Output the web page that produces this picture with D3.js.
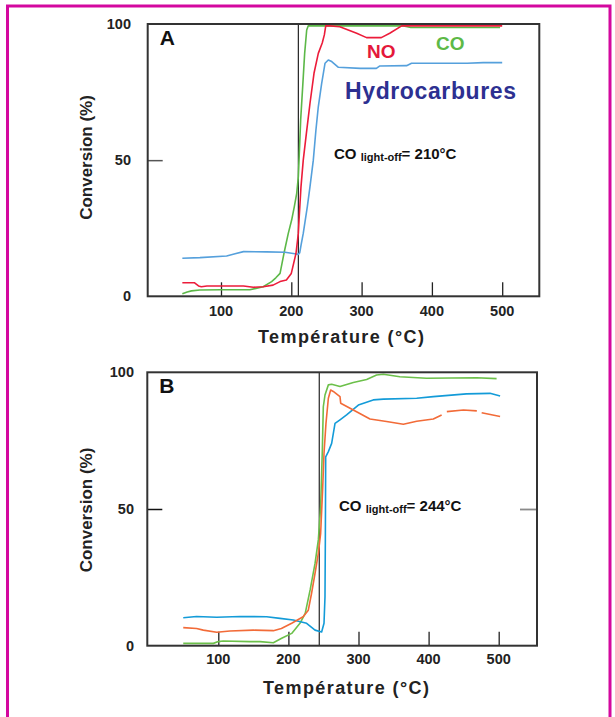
<!DOCTYPE html>
<html>
<head>
<meta charset="utf-8">
<script src="https://cdn.jsdelivr.net/npm/d3@7"></script>
<style>
  html, body { margin: 0; padding: 0; background: #fff; }
  svg { display: block; }
  text { font-family: "Liberation Sans", Arial, Helvetica, sans-serif; font-weight: bold; }
</style>
</head>
<body>
<svg id="chart" width="615" height="717"></svg>
<script>
// Temperature ticks (°C) and conversion ticks (%)
const tempTicks = [100, 200, 300, 400, 500];
const convTicks = [0, 50, 100];

// Panel A: conversion (%) versus temperature (°C)
const aCO = [[45,0.9],[52,1.6],[58,2.0],[70,2.3],[100,2.4],[141,2.4],[160,3.5],[172,5.4],[178,6.8],[184,8.4],
  [189.6,15.8],[195.7,23.1],[200.5,28],[204.3,32.9],[207.7,37.8],[210,43.9],[211.4,52.5],[213.3,64.7],[216.2,77],
  [219,89.2],[221.9,97.8],[224,99.3],[300,99.3],[360,99.3],[370,98.7],[450,98.7],[497,98.7]];
const aNO = [[45,5],[62,5],[68,3.8],[72,3.5],[80,3.8],[132,3.8],[146,3.3],[160,3.5],[174,4.1],[184,5.4],[193,6],
  [200,8.4],[206.7,15.8],[210,23.1],[211,28],[213.8,40.3],[217,50],[222,61],[226.6,70.9],[232.3,81.9],[238.4,89.2],
  [244,93],[247,96],[249,99.3],[251,99.4],[269,99],[293,96.6],[307,95],[328,95],[340,96.6],[357,99.3],[400,99.3],[500,99.3]];
const aHC = [[45,14],[70,14.2],[108,14.8],[120,15.6],[132,16.4],[165,16.3],[191,16.2],[205,15.6],[210,15.4],[212,16],
  [214,19],[217,23.1],[222.8,32.9],[226.6,40.3],[231.3,50],[235,61],[238.4,69.6],[243.2,78.2],[248,85.6],[252.6,86.8],
  [257.5,86.2],[267,84.1],[298,83.7],[321,83.7],[326,84.6],[364,84.7],[371,85.6],[450,85.6],[473,85.8],[500,85.8]];
const aLightOff = 210;

// Panel B: conversion (%) versus temperature (°C); null marks a break in the trace
const bCO = [[50,0.85],[93,0.85],[100,1.5],[107,1.7],[145,1.5],[159.5,1.5],[178.5,1.1],[190.4,2.7],[204.7,4.5],
  [216.5,8.2],[224,11.8],[231,20.4],[238,30.1],[242.7,38.7],[246,50.9],[248.4,71.6],[249.8,87.4],[252.2,91.7],
  [257,95.4],[261.7,95.6],[273.6,94.8],[292.6,96.3],[311.6,97.4],[325.8,99],[335.4,99.3],[359,98.4],[397,97.8],
  [468.5,98],[497,97.7]];
const bNO = [[50,6.6],[69,6.3],[78.6,5.7],[97.7,4.9],[116.6,5.4],[150,5.7],[178.5,5.5],[190,6.3],[204.7,8.2],
  [221,10.6],[228.4,13],[233,19.1],[238,26.5],[242.7,33.8],[246,41.1],[248.8,57],[250.8,70.4],[253.6,81.3],
  [257,90.5],[260.3,93.5],[264,93],[273.6,91.1],[274.6,88.7],[292.6,86.2],[316.4,82.9],[340,82],[364,81],
  [383,82.1],[406.7,82.9],[418.6,84.4],null,[426,85.6],[449.7,86.2],[468.8,85.9],null,[475.7,85.2],[502,83.8]];
const bHC = [[50,10.2],[69,10.7],[97.7,10.4],[131,10.7],[169,10.6],[188,10],[207,9.4],[226,8.2],[238,5.7],
  [247.4,5],[250.8,8.2],[252.2,17.9],[252.7,38.7],[253.2,69.1],[257,71],[261.7,74],[266.5,81.3],[273.6,82.6],
  [283,84.4],[299.8,88],[321,89.9],[335.5,90.2],[383,90.5],[406.7,91.1],[454,92.1],[487.6,92.3],[502,91.3]];
const bLightOff = 244;

const svg = d3.select("#chart");

// Magenta page frame (open at the bottom)
svg.append("path")
  .attr("d", "M7.5,717 V6 H610 V717")
  .attr("fill", "none")
  .attr("stroke", "#d4089f")
  .attr("stroke-width", 3);

function panel(cfg) {
  const g = svg.append("g");
  const x = d3.scaleLinear().domain([0, 500]).range(cfg.xRange);
  const y = d3.scaleLinear().domain([0, 100]).range([cfg.box.bottom, cfg.box.top]);
  const b = cfg.box;

  // Temperature tick marks rising from the bottom edge
  const xAxis = d3.axisTop(x).tickValues(tempTicks).tickSize(14).tickFormat("");
  g.append("g").attr("transform", `translate(0,${b.bottom})`).call(xAxis)
    .call(s => s.select(".domain").remove())
    .call(s => s.selectAll("line").attr("stroke", "#222").attr("stroke-width", 1.3));

  // Temperature tick labels
  g.selectAll(".xl").data(tempTicks).enter().append("text")
    .attr("x", d => x(d)).attr("y", b.bottom + cfg.xLabelDy)
    .attr("text-anchor", "middle").attr("dominant-baseline", "central")
    .attr("font-size", 14.5).attr("fill", "#222").text(d => d);

  // Conversion tick at 50 and labels
  const yAxis = d3.axisRight(y).tickValues([50]).tickSize(15).tickFormat("");
  g.append("g").attr("transform", `translate(${b.left},0)`).call(yAxis)
    .call(s => s.select(".domain").remove())
    .call(s => s.selectAll("line").attr("stroke", cfg.leftTick).attr("stroke-width", 1.5));
  if (cfg.rightTick) {
    const yAxisR = d3.axisLeft(y).tickValues([50]).tickSize(17).tickFormat("");
    g.append("g").attr("transform", `translate(${b.right},0)`).call(yAxisR)
      .call(s => s.select(".domain").remove())
      .call(s => s.selectAll("line").attr("stroke", "#8a8a8a").attr("stroke-width", 1.8));
  }
  g.selectAll(".yl").data(convTicks).enter().append("text")
    .attr("x", cfg.yLabelX).attr("y", d => y(d))
    .attr("text-anchor", "end").attr("dominant-baseline", "central")
    .attr("font-size", 14.5).attr("fill", "#222").text(d => d);

  // Light-off marker
  g.append("line")
    .attr("x1", x(cfg.lightOff)).attr("x2", x(cfg.lightOff))
    .attr("y1", b.top).attr("y2", b.bottom)
    .attr("stroke", "#111").attr("stroke-width", 1.1);

  // Conversion traces
  const line = d3.line().defined(d => d != null).x(d => x(d[0])).y(d => y(d[1]));
  cfg.series.forEach(s => {
    g.append("path").datum(s.data)
      .attr("d", line).attr("fill", "none")
      .attr("stroke", s.color).attr("stroke-width", 1.6)
      .attr("stroke-linejoin", "round");
  });

  // Plot frame
  g.append("rect")
    .attr("x", b.left).attr("y", b.top)
    .attr("width", b.right - b.left).attr("height", b.bottom - b.top)
    .attr("fill", "none").attr("stroke", "#333").attr("stroke-width", 2);

  // Panel letter
  g.append("text").attr("x", b.left + 12).attr("y", b.top + 21)
    .attr("font-size", 21).attr("fill", "#111").text(cfg.letter);

  // Light-off annotation
  const t = g.append("text").attr("x", cfg.noteX).attr("y", cfg.noteY).attr("fill", "#111");
  t.append("tspan").attr("font-size", 15).text("CO ");
  t.append("tspan").attr("font-size", 11).attr("dy", 2).text("light-off");
  t.append("tspan").attr("font-size", 15).attr("dy", -2).text(`= ${cfg.lightOff}°C`);

  // Axis titles
  g.append("text")
    .attr("transform", `translate(${cfg.yTitle[0]},${cfg.yTitle[1]}) rotate(-90)`)
    .attr("text-anchor", "middle").attr("dominant-baseline", "central")
    .attr("font-size", 17).attr("fill", "#222").text("Conversion (%)");
  g.append("text")
    .attr("x", cfg.xTitle[0]).attr("y", cfg.xTitle[1])
    .attr("text-anchor", "middle").attr("font-size", 18).attr("fill", "#222")
    .attr("textLength", 166).attr("lengthAdjust", "spacing")
    .text("Température (°C)");
  return g;
}

panel({
  letter: "A",
  box: { left: 147.7, right: 539.3, top: 24, bottom: 296.3 },
  xRange: [150.7, 502.2],
  xLabelDy: 14.5,
  yLabelX: 131,
  leftTick: "#555",
  rightTick: false,
  lightOff: aLightOff,
  noteX: 334, noteY: 159,
  yTitle: [86, 157.5],
  xTitle: [341, 343],
  series: [
    { data: aCO, color: "#5cb848" },
    { data: aHC, color: "#55a0dc" },
    { data: aNO, color: "#ec1c3a" }
  ]
});

// Series names for panel A
svg.append("text").attr("x", 367).attr("y", 57.5).attr("font-size", 19).attr("fill", "#e4183a").text("NO");
svg.append("text").attr("x", 436).attr("y", 49.5).attr("font-size", 19).attr("fill", "#5db947").text("CO");
svg.append("text").attr("x", 345).attr("y", 98.5).attr("font-size", 23).attr("fill", "#2d3091")
  .attr("textLength", 171).attr("lengthAdjust", "spacing").text("Hydrocarbures");

panel({
  letter: "B",
  box: { left: 147.3, right: 537, top: 372.3, bottom: 645.7 },
  xRange: [148.2, 498.7],
  xLabelDy: 12.8,
  yLabelX: 134,
  leftTick: "#111",
  rightTick: true,
  lightOff: bLightOff,
  noteX: 339, noteY: 510.5,
  yTitle: [86, 510],
  xTitle: [346, 694],
  series: [
    { data: bCO, color: "#6cc04a" },
    { data: bHC, color: "#139bd8" },
    { data: bNO, color: "#f26b38" }
  ]
});
</script>
</body>
</html>
